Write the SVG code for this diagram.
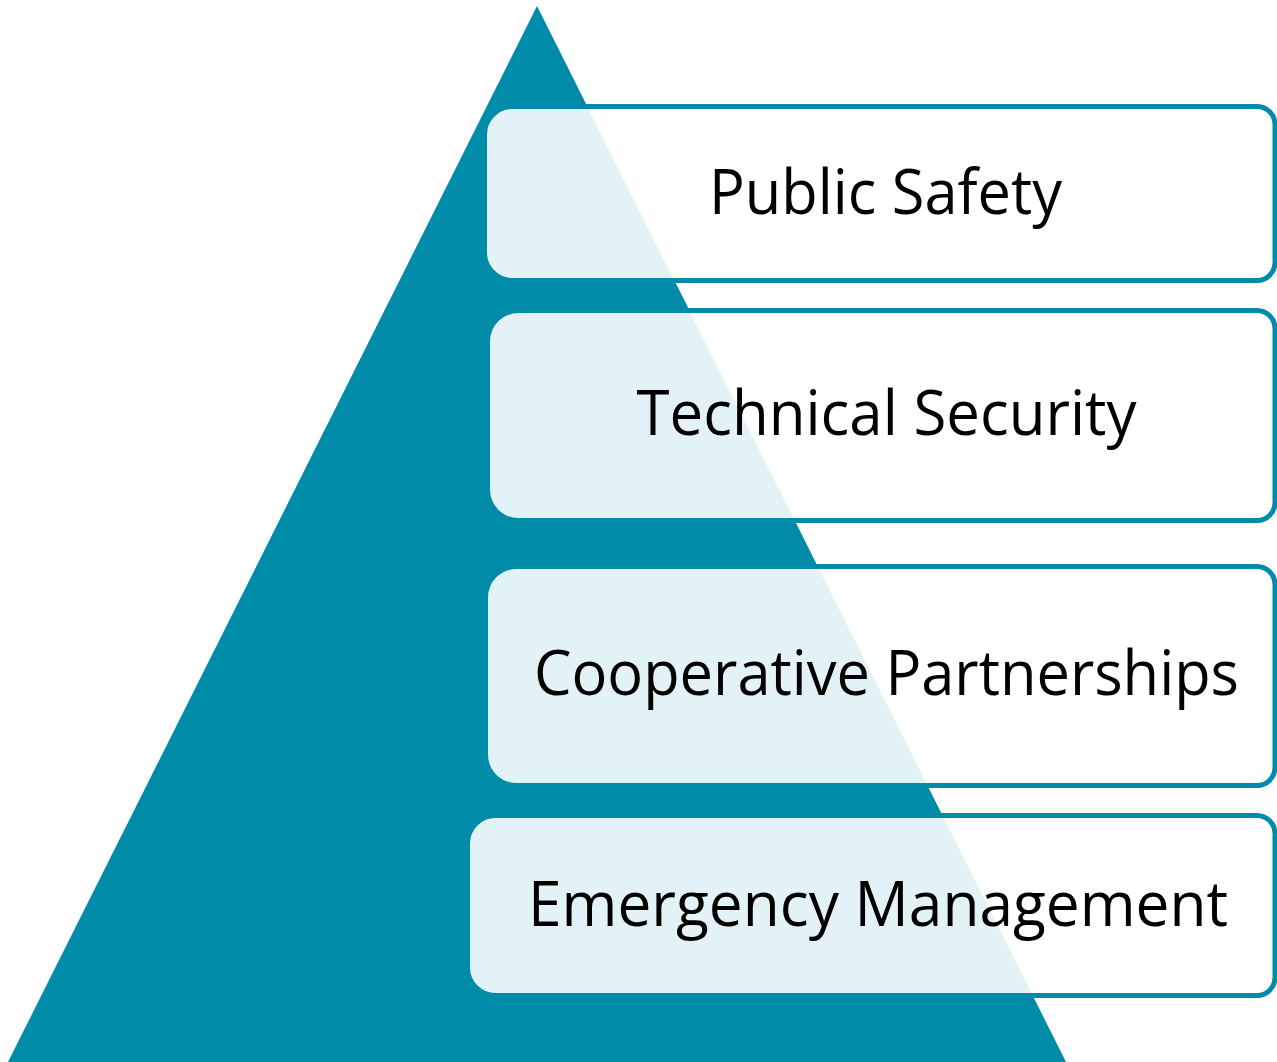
<svg xmlns="http://www.w3.org/2000/svg" width="1277" height="1062" viewBox="0 0 1277 1062">
  <style>
    .box { fill: #ffffff; fill-opacity: 0.89; stroke: #008BA8; stroke-width: 5; }
    .lbl { font-family: "Open Sans", "Noto Sans", "Liberation Sans", sans-serif; font-size: 62px; fill: #000000; text-anchor: middle; }
  </style>
  <rect x="0" y="0" width="1277" height="1062" fill="#ffffff"/>
  <g id="pyramid">
    <polygon points="537,6 8,1062 1066,1062" fill="#008BA8"/>
  </g>
  <g id="connectors"></g>
  <g id="node-public-safety">
    <path class="box" d="M512.5,106.5 H1257 A18,18 0 0 1 1275,124.5 V262.5 A18,18 0 0 1 1257,280.5 H512.5 A28,28 0 0 1 484.5,252.5 V134.5 A28,28 0 0 1 512.5,106.5 Z"/>
    <text class="lbl" x="885.5" y="214" textLength="353" lengthAdjust="spacingAndGlyphs">Public Safety</text>
  </g>
  <g id="node-technical-security">
    <path class="box" d="M518.5,310.5 H1257 A18,18 0 0 1 1275,328.5 V502.5 A18,18 0 0 1 1257,520.5 H518.5 A31,31 0 0 1 487.5,489.5 V341.5 A31,31 0 0 1 518.5,310.5 Z"/>
    <text class="lbl" x="886.5" y="435" textLength="500" lengthAdjust="spacingAndGlyphs">Technical Security</text>
  </g>
  <g id="node-cooperative-partnerships">
    <path class="box" d="M516.5,566.5 H1257 A18,18 0 0 1 1275,584.5 V767.5 A18,18 0 0 1 1257,785.5 H516.5 A31,31 0 0 1 485.5,754.5 V597.5 A31,31 0 0 1 516.5,566.5 Z"/>
    <text class="lbl" x="886.5" y="695" textLength="705" lengthAdjust="spacingAndGlyphs">Cooperative Partnerships</text>
  </g>
  <g id="node-emergency-management">
    <path class="box" d="M495.5,815.5 H1257 A18,18 0 0 1 1275,833.5 V977.5 A18,18 0 0 1 1257,995.5 H495.5 A28,28 0 0 1 467.5,967.5 V843.5 A28,28 0 0 1 495.5,815.5 Z"/>
    <text class="lbl" x="878" y="925.5" textLength="700" lengthAdjust="spacingAndGlyphs">Emergency Management</text>
  </g>
</svg>
